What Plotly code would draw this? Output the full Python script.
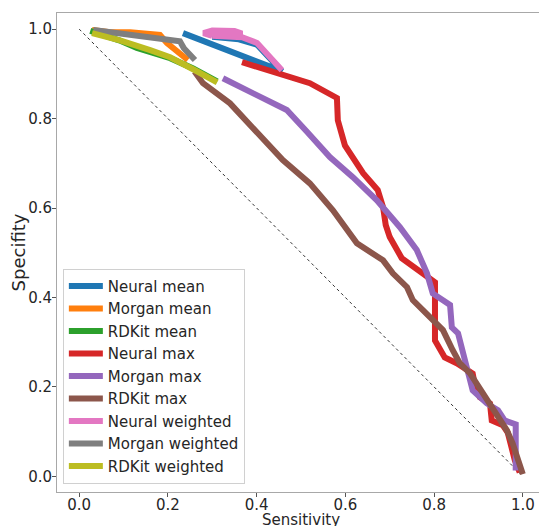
import plotly.graph_objects as go

# ---- data (Sensitivity x, Specifity y) ----
neural_mean_x = [0.30, 0.36, 0.401, 0.430, 0.457, 0.234]
neural_mean_y = [0.983, 0.977, 0.965, 0.935, 0.906, 0.991]

morgan_mean_x = [0.029, 0.07, 0.115, 0.182, 0.198, 0.227, 0.245]
morgan_mean_y = [0.998, 0.993, 0.993, 0.987, 0.969, 0.946, 0.931]

rdkit_mean_x = [0.025, 0.09, 0.13, 0.16, 0.205, 0.257, 0.311]
rdkit_mean_y = [0.996, 0.975, 0.958, 0.948, 0.935, 0.912, 0.883]

neural_max_x = [0.367, 0.520, 0.581, 0.583, 0.599, 0.640, 0.673, 0.685, 0.691, 0.700, 0.727,
                0.775, 0.802, 0.802, 0.806, 0.824, 0.851, 0.865, 0.887, 0.892, 0.903, 0.926,
                0.930, 0.955, 0.966, 0.982, 0.993]
neural_max_y = [0.926, 0.879, 0.846, 0.796, 0.740, 0.678, 0.640, 0.602, 0.562, 0.535, 0.488,
                0.456, 0.434, 0.304, 0.298, 0.266, 0.253, 0.244, 0.230, 0.204, 0.177, 0.163,
                0.125, 0.114, 0.098, 0.036, 0.009]

morgan_max_x = [0.324, 0.468, 0.514, 0.565, 0.617, 0.671, 0.723, 0.761, 0.784, 0.797, 0.836,
                0.840, 0.854, 0.858, 0.874, 0.887, 0.919, 0.944, 0.959, 0.984, 0.984]
morgan_max_y = [0.890, 0.819, 0.770, 0.714, 0.669, 0.617, 0.557, 0.506, 0.454, 0.409, 0.383,
                0.333, 0.320, 0.304, 0.244, 0.192, 0.163, 0.148, 0.125, 0.116, 0.013]

rdkit_max_x = [0.26, 0.279, 0.340, 0.401, 0.459, 0.520, 0.572, 0.626, 0.685, 0.707, 0.739,
               0.752, 0.775, 0.797, 0.820, 0.842, 0.858, 0.881, 0.903, 0.919, 0.941, 0.964,
               0.977, 0.989, 0.998, 1.0]
rdkit_max_y = [0.905, 0.879, 0.834, 0.767, 0.707, 0.655, 0.595, 0.521, 0.483, 0.454, 0.423,
               0.394, 0.371, 0.349, 0.327, 0.282, 0.253, 0.230, 0.197, 0.170, 0.141, 0.103,
               0.074, 0.036, 0.012, 0.005]

neural_weighted_x = [0.30, 0.28, 0.30, 0.35, 0.367, 0.35, 0.30, 0.367, 0.401, 0.430, 0.457]
neural_weighted_y = [0.985, 0.991, 0.997, 0.996, 0.990, 0.984, 0.985, 0.982, 0.969, 0.937, 0.908]

morgan_weighted_x = [0.032, 0.108, 0.182, 0.227, 0.236, 0.261]
morgan_weighted_y = [0.998, 0.987, 0.978, 0.973, 0.957, 0.931]

rdkit_weighted_x = [0.029, 0.092, 0.16, 0.205, 0.261, 0.311]
rdkit_weighted_y = [0.991, 0.975, 0.953, 0.937, 0.908, 0.881]

diag_x = [0.0, 1.0]
diag_y = [1.0, 0.0]

tick_vals = [0, 0.2, 0.4, 0.6, 0.8, 1.0]
tick_text = ["0.0", "0.2", "0.4", "0.6", "0.8", "1.0"]

series = [
    ("Neural mean", neural_mean_x, neural_mean_y, "#1f77b4"),
    ("Morgan mean", morgan_mean_x, morgan_mean_y, "#ff7f0e"),
    ("RDKit mean", rdkit_mean_x, rdkit_mean_y, "#2ca02c"),
    ("Neural max", neural_max_x, neural_max_y, "#d62728"),
    ("Morgan max", morgan_max_x, morgan_max_y, "#9467bd"),
    ("RDKit max", rdkit_max_x, rdkit_max_y, "#8c564b"),
    ("Neural weighted", neural_weighted_x, neural_weighted_y, "#e377c2"),
    ("Morgan weighted", morgan_weighted_x, morgan_weighted_y, "#7f7f7f"),
    ("RDKit weighted", rdkit_weighted_x, rdkit_weighted_y, "#bcbd22"),
]

fig = go.Figure()
fig.add_trace(go.Scatter(x=diag_x, y=diag_y, mode="lines", showlegend=False,
                         line=dict(color="black", width=0.8, dash="dot")))
for name, xs, ys, col in series:
    fig.add_trace(go.Scatter(x=xs, y=ys, mode="lines", name=name,
                             line=dict(color=col, width=6)))

font = dict(family="DejaVu Sans", size=15, color="#262626")
fig.update_layout(
    width=539, height=518,
    margin=dict(l=49, r=2, t=5, b=34),
    plot_bgcolor="white", paper_bgcolor="white",
    font=font,
    showlegend=True,
    legend=dict(x=0.012, y=0.017, xanchor="left", yanchor="bottom", itemwidth=34,
                bgcolor="rgba(255,255,255,0.8)", bordercolor="#d0d0d0", borderwidth=1,
                font=dict(family="DejaVu Sans", size=15, color="#262626")),
    annotations=[dict(text="Sensitivity", xref="paper", yref="paper", x=0.5, y=0,
                      xanchor="center", yanchor="middle", yshift=-28, showarrow=False,
                      font=dict(family="DejaVu Sans", size=15, color="#262626"))],
)
fig.update_xaxes(range=[-0.05, 1.05], tickvals=tick_vals, ticktext=tick_text,
                 automargin=False, ticklabelstandoff=-5,
                 showgrid=False, zeroline=False, showline=True, linecolor="#a8a8a8",
                 linewidth=1, mirror=True, ticks="outside", ticklen=4, tickcolor="#555")
fig.update_yaxes(range=[-0.035, 1.036], tickvals=tick_vals, ticktext=tick_text,
                 automargin=False, ticklabelstandoff=-3,
                 showgrid=False, zeroline=False, showline=True, linecolor="#a8a8a8",
                 linewidth=1, mirror=True, ticks="outside", ticklen=4, tickcolor="#555",
                 title=dict(text="Specifity", standoff=2))

fig.write_html("out.html")
